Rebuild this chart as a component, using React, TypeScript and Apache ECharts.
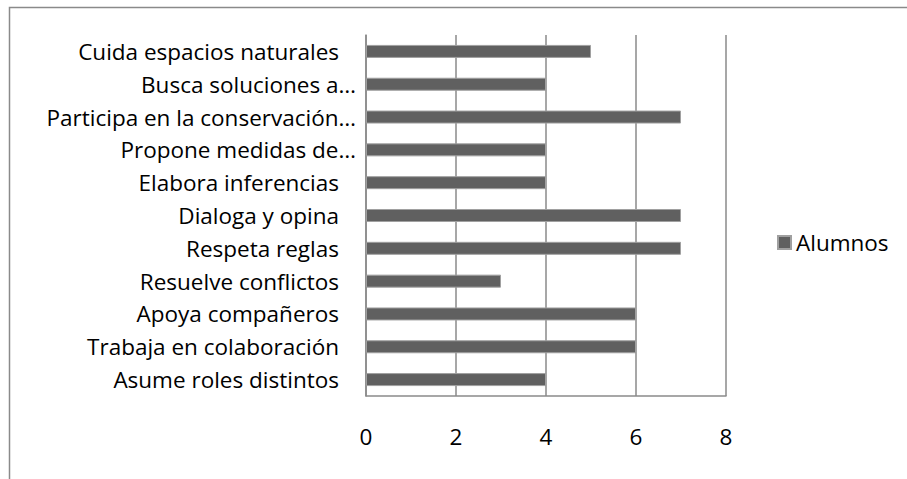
import React, { useEffect, useRef } from "react";
import * as echarts from "echarts";

const categories = [
  "Cuida espacios naturales",
  "Busca soluciones a…",
  "Participa en la conservación…",
  "Propone medidas de…",
  "Elabora inferencias",
  "Dialoga y opina",
  "Respeta reglas",
  "Resuelve conflictos",
  "Apoya compañeros",
  "Trabaja en colaboración",
  "Asume roles distintos",
];
const seriesName = "Alumnos";
const alumnos = [5, 4, 7, 4, 4, 7, 7, 3, 6, 6, 4];
const xTicks = [0, 2, 4, 6, 8];

const FONT = "'Open Sans', sans-serif";
const FS = 22.5;

export default function App() {
  const ref = useRef<HTMLDivElement>(null);
  useEffect(() => {
    if (!ref.current) return;
    const chart = echarts.init(ref.current, null, { renderer: "svg" });
    chart.setOption({
      animation: false,
      backgroundColor: "#ffffff",
      textStyle: { fontFamily: FONT },
      graphic: [
        {
          type: "rect",
          shape: { x: 9.5, y: 7.5, width: 1000, height: 1000 },
          style: { fill: "none", stroke: "#8a8a8a", lineWidth: 1.5 },
          silent: true,
        },
      ],
      legend: {
        orient: "vertical",
        left: 777,
        top: 231,
        padding: 0,
        itemWidth: 13,
        itemHeight: 13,
        itemGap: 6,
        icon: "rect",
        textStyle: { fontFamily: FONT, fontSize: FS, color: "#000" },
        data: [seriesName],
      },
      grid: { left: 366, top: 35, width: 360, height: 361 },
      xAxis: {
        type: "value",
        min: xTicks[0],
        max: xTicks[xTicks.length - 1],
        interval: 2,
        axisLine: { show: true, lineStyle: { color: "#8a8a8a", width: 1.5 } },
        axisTick: { show: false },
        splitLine: { show: true, lineStyle: { color: "#8a8a8a", width: 1.5 } },
        axisLabel: { fontFamily: FONT, fontSize: FS, color: "#000", margin: 29 },
      },
      yAxis: {
        type: "category",
        inverse: true,
        data: categories,
        axisLine: { show: true, lineStyle: { color: "#8a8a8a", width: 1.5 } },
        axisTick: { show: false },
        splitLine: { show: false },
        axisLabel: {
          margin: 10,
          formatter: (v: string) => (v.endsWith("…") ? `{e|${v}}` : `{n|${v}}`),
          rich: {
            e: { fontFamily: FONT, fontSize: FS, color: "#000" },
            n: { fontFamily: FONT, fontSize: FS, color: "#000", padding: [0, 17, 0, 0] },
          },
        },
      },
      series: [
        {
          name: seriesName,
          type: "bar",
          data: alumnos,
          barWidth: 13,
          itemStyle: { color: "#606060", borderColor: "#a0a0a0", borderWidth: 1 },
        },
      ],
    });
    return () => chart.dispose();
  }, []);
  return (
    <div
      ref={ref}
      style={{ position: "fixed", left: 0, top: 0, width: 907, height: 479 }}
    />
  );
}
